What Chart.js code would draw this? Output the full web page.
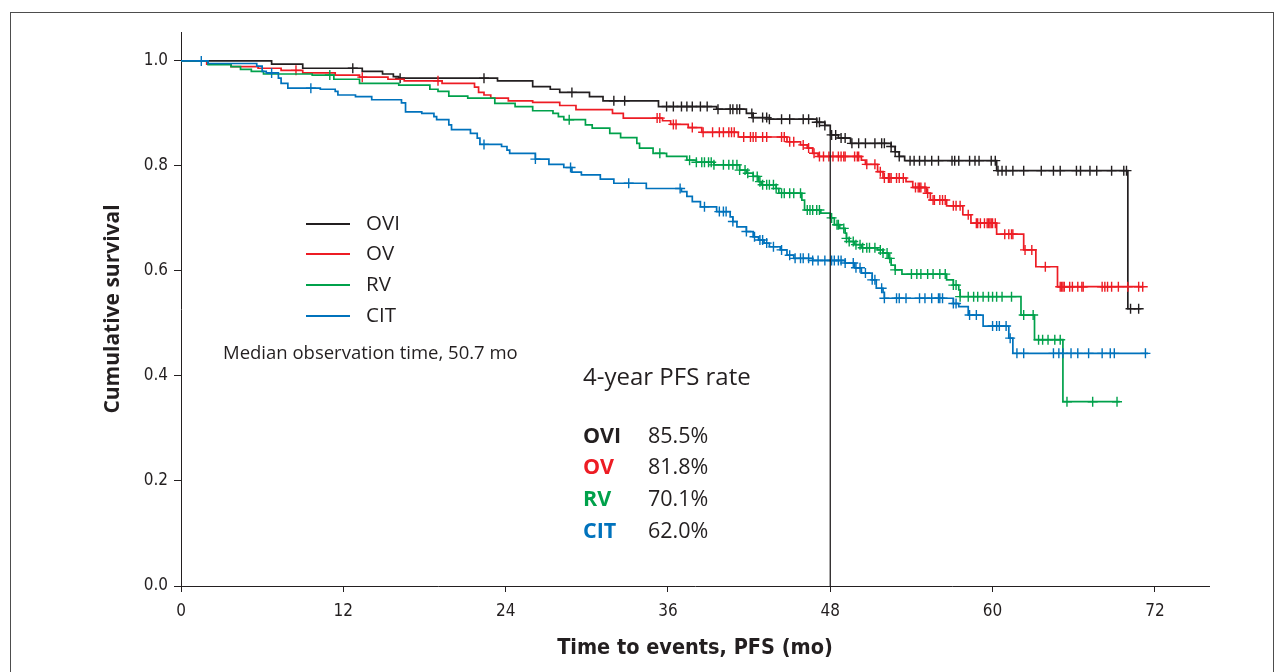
<!DOCTYPE html>
<html><head><meta charset="utf-8">
<script src="https://cdn.jsdelivr.net/npm/chart.js@4/dist/chart.umd.min.js"></script>
<style>
html,body{margin:0;padding:0;background:#fff;}
#wrap{position:relative;width:1283px;height:672px;overflow:hidden;background:#fff;}
#frame{position:absolute;left:10px;top:12px;width:1264px;height:720px;border:1px solid #4d4d4d;box-sizing:border-box;}
canvas{position:absolute;left:0;top:0;}
.t{position:absolute;white-space:nowrap;font-family:"Open Sans",sans-serif;color:#231f20;line-height:24px;height:24px;}
.sw{position:absolute;height:2px;width:44px;}
</style></head><body>
<div id="wrap"><div id="frame"></div><canvas id="c" width="1283" height="672"></canvas><div id="ann"></div></div>
<script>
// ---------- data ----------
const xTicks = [0, 12, 24, 36, 48, 60, 72];
const yTicks = [0.0, 0.2, 0.4, 0.6, 0.8, 1.0];
const groups = ['OVI', 'OV', 'RV', 'CIT'];
const groupColors = ['#231f20', '#ed1c24', '#00a14b', '#0072bc'];
const pfs4y = ['85.5%', '81.8%', '70.1%', '62.0%'];
const pfsTitle = '4-year PFS rate';
const medianText = 'Median observation time, 50.7 mo';
const xTitle = 'Time to events, PFS (mo)';
const yTitle = 'Cumulative survival';
const landmarkMonth = 48;
const lastFollowUp = [71.0, 71.1, 69.4, 71.5];

const oviTime = [0, 6.7, 9.0, 13.4, 14.9, 15.7, 16.1, 23.4, 26.0, 27.3, 28.0, 30.2, 31.2, 35.3, 39.6, 41.8, 42.3, 43.5, 47.0, 47.6, 48.0, 48.6, 49.5, 52.5, 52.8, 53.1, 53.5, 60.3, 70.0];
const oviSurv = [1, 0.994, 0.986, 0.980, 0.975, 0.970, 0.967, 0.962, 0.951, 0.946, 0.940, 0.932, 0.924, 0.913, 0.908, 0.900, 0.892, 0.889, 0.883, 0.877, 0.859, 0.853, 0.843, 0.837, 0.827, 0.818, 0.810, 0.791, 0.528];
const oviCensor = [12.7, 16.2, 22.4, 28.9, 32.0, 32.8, 35.9, 36.4, 37.0, 37.4, 37.8, 38.4, 38.9, 39.7, 40.6, 40.8, 41.1, 41.3, 42.2, 42.3, 43.0, 43.3, 43.5, 44.4, 45.0, 46.0, 46.4, 47.0, 47.2, 47.6, 48.1, 48.4, 48.8, 49.1, 49.6, 50.1, 50.6, 51.3, 51.8, 52.0, 52.5, 52.8, 53.1, 53.9, 54.2, 54.6, 55.0, 55.5, 56.0, 57.0, 57.2, 57.5, 58.3, 58.7, 59.0, 59.9, 60.2, 60.4, 60.7, 61.0, 61.5, 62.3, 63.6, 64.5, 65.0, 66.2, 66.5, 67.2, 67.7, 68.8, 69.7, 69.9, 70.2, 70.8];

const ovTime = [0, 1.9, 3.7, 5.7, 7.4, 9.0, 11.4, 13.2, 15.3, 16.5, 19.3, 21.7, 22.0, 22.4, 22.9, 24.2, 26.0, 28.0, 29.2, 31.9, 32.7, 35.6, 36.2, 37.5, 38.5, 41.2, 44.8, 45.8, 46.3, 46.7, 47.1, 50.3, 50.6, 51.5, 51.9, 53.6, 54.1, 55.1, 55.4, 56.6, 57.8, 58.4, 60.3, 62.3, 63.2, 64.8];
const ovSurv = [1, 0.994, 0.989, 0.986, 0.982, 0.977, 0.973, 0.969, 0.965, 0.962, 0.957, 0.950, 0.940, 0.935, 0.929, 0.924, 0.921, 0.915, 0.907, 0.900, 0.891, 0.886, 0.879, 0.873, 0.864, 0.855, 0.846, 0.840, 0.834, 0.824, 0.818, 0.811, 0.803, 0.789, 0.777, 0.770, 0.759, 0.748, 0.735, 0.724, 0.707, 0.691, 0.670, 0.640, 0.608, 0.570];
const ovCensor = [8.5, 13.4, 19.0, 35.2, 35.4, 36.4, 36.6, 37.8, 38.6, 39.3, 39.8, 40.1, 40.5, 40.7, 40.9, 41.6, 42.1, 42.3, 42.5, 43.0, 43.3, 44.4, 44.6, 45.0, 45.3, 46.0, 46.4, 46.8, 47.2, 47.5, 47.9, 48.2, 48.6, 48.8, 49.0, 49.1, 49.8, 50.0, 50.1, 50.7, 51.3, 51.7, 52.0, 52.3, 52.4, 52.5, 52.9, 53.1, 53.4, 54.3, 54.5, 54.6, 54.7, 55.0, 55.2, 55.6, 55.7, 56.1, 56.3, 56.5, 57.1, 57.3, 57.6, 58.2, 58.8, 58.9, 59.1, 59.4, 59.6, 59.7, 59.8, 59.9, 60.0, 60.2, 60.9, 61.2, 61.4, 61.5, 62.4, 62.9, 63.9, 65.0, 65.1, 65.2, 65.3, 65.7, 65.9, 66.3, 66.6, 66.7, 68.1, 68.3, 68.5, 68.8, 69.3, 70.0, 70.8, 71.1];

const rvTime = [0, 2.0, 3.7, 4.4, 5.2, 6.1, 9.7, 11.3, 13.2, 16.1, 18.4, 19.0, 19.8, 21.2, 23.2, 24.7, 26.0, 27.5, 27.9, 28.3, 29.9, 30.4, 31.7, 32.5, 33.7, 33.9, 34.9, 35.9, 37.4, 38.1, 39.4, 41.3, 41.8, 42.3, 42.7, 42.9, 44.0, 44.2, 45.9, 46.1, 47.3, 48.0, 48.3, 48.7, 49.1, 49.2, 49.4, 49.8, 50.3, 51.5, 51.9, 52.3, 52.5, 52.8, 53.3, 56.6, 57.1, 57.5, 57.6, 62.1, 63.1, 65.2];
const rvSurv = [1, 0.993, 0.989, 0.984, 0.980, 0.975, 0.973, 0.965, 0.957, 0.954, 0.946, 0.942, 0.933, 0.929, 0.919, 0.913, 0.905, 0.900, 0.894, 0.888, 0.878, 0.872, 0.862, 0.854, 0.843, 0.834, 0.824, 0.818, 0.811, 0.807, 0.802, 0.792, 0.786, 0.780, 0.770, 0.764, 0.757, 0.748, 0.735, 0.716, 0.710, 0.701, 0.688, 0.681, 0.672, 0.662, 0.656, 0.650, 0.644, 0.640, 0.634, 0.624, 0.611, 0.602, 0.594, 0.583, 0.573, 0.564, 0.551, 0.516, 0.469, 0.351];
const rvCensor = [11.0, 28.7, 35.4, 37.6, 38.1, 38.5, 38.7, 39.0, 39.2, 39.4, 40.1, 40.5, 40.8, 41.1, 41.3, 41.7, 41.9, 42.3, 42.6, 42.8, 43.0, 43.3, 43.5, 43.8, 44.0, 44.4, 44.6, 45.0, 45.3, 45.8, 46.3, 46.5, 46.7, 47.0, 47.2, 48.1, 48.5, 48.6, 49.0, 49.2, 49.4, 49.7, 49.9, 50.2, 50.4, 50.7, 50.9, 51.3, 51.7, 51.9, 52.2, 52.4, 52.8, 54.0, 54.4, 54.7, 55.2, 55.6, 56.1, 56.5, 57.1, 57.3, 57.6, 58.2, 58.6, 58.9, 59.3, 59.7, 60.0, 60.3, 60.7, 61.4, 62.3, 63.0, 63.4, 63.7, 64.1, 64.6, 65.0, 65.5, 67.4, 69.2];

const citTime = [0, 2.0, 5.6, 6.0, 6.3, 7.2, 7.4, 7.9, 10.3, 11.4, 11.6, 12.9, 14.1, 16.3, 16.6, 17.8, 18.7, 18.9, 19.8, 20.0, 21.4, 21.9, 22.1, 23.7, 24.1, 24.3, 26.2, 27.2, 28.3, 28.9, 29.6, 31.0, 32.0, 34.4, 37.0, 37.4, 37.8, 38.4, 39.6, 40.6, 40.8, 41.1, 41.8, 42.3, 42.7, 43.1, 43.5, 44.3, 44.8, 45.3, 46.7, 49.1, 49.8, 50.3, 51.1, 51.4, 51.9, 52.0, 57.1, 57.5, 58.2, 59.3, 61.2, 61.5];
const citSurv = [1, 0.995, 0.990, 0.980, 0.977, 0.967, 0.957, 0.948, 0.946, 0.942, 0.935, 0.932, 0.926, 0.920, 0.903, 0.900, 0.894, 0.888, 0.878, 0.869, 0.862, 0.853, 0.841, 0.837, 0.830, 0.824, 0.813, 0.803, 0.797, 0.788, 0.783, 0.775, 0.767, 0.757, 0.751, 0.742, 0.732, 0.722, 0.713, 0.703, 0.694, 0.684, 0.675, 0.665, 0.659, 0.653, 0.646, 0.640, 0.630, 0.624, 0.620, 0.615, 0.606, 0.596, 0.583, 0.567, 0.559, 0.548, 0.538, 0.532, 0.516, 0.495, 0.472, 0.443];
const citCensor = [1.5, 6.7, 9.6, 22.4, 26.2, 28.8, 33.1, 36.9, 38.7, 39.8, 40.1, 40.3, 40.8, 41.8, 42.4, 42.8, 43.0, 43.3, 43.8, 44.4, 45.0, 45.4, 45.8, 46.0, 46.4, 46.7, 47.1, 47.6, 48.1, 48.3, 48.6, 48.8, 49.1, 49.7, 49.9, 50.2, 50.6, 51.1, 51.3, 51.8, 52.0, 52.9, 53.1, 53.6, 54.6, 55.0, 55.5, 56.0, 56.1, 56.3, 57.1, 57.3, 58.3, 58.8, 60.0, 60.3, 60.5, 61.0, 61.3, 61.8, 62.3, 64.5, 64.9, 65.2, 65.8, 66.3, 67.1, 68.1, 68.7, 69.0, 71.3];

// ---------- build ----------
const series = [
  {time: oviTime, surv: oviSurv, censor: oviCensor},
  {time: ovTime, surv: ovSurv, censor: ovCensor},
  {time: rvTime, surv: rvSurv, censor: rvCensor},
  {time: citTime, surv: citSurv, censor: citCensor}
];
function survAt(time, surv, t) {
  let v = surv[0];
  for (let i = 0; i < time.length; i++) { if (time[i] <= t) v = surv[i]; else break; }
  return v;
}
const datasets = [];
datasets.push({
  label: 'landmark',
  data: [{x: landmarkMonth, y: 0}, {x: landmarkMonth, y: survAt(oviTime, oviSurv, landmarkMonth)}],
  showLine: true, borderColor: '#231f20', borderWidth: 1.3, pointRadius: 0
});
for (let k = series.length - 1; k >= 0; k--) {
  const s = series[k];
  const pts = s.time.map((t, i) => ({x: t, y: s.surv[i]}));
  pts.push({x: lastFollowUp[k], y: s.surv[s.surv.length - 1]});
  datasets.push({label: groups[k], data: pts, showLine: true, stepped: 'before',
    borderColor: groupColors[k], borderWidth: 1.7, pointRadius: 0, fill: false});
  datasets.push({label: groups[k] + ' censored',
    data: s.censor.map(t => ({x: t, y: survAt(s.time, s.surv, t)})),
    showLine: false, pointStyle: 'cross', pointRadius: 5, pointBorderWidth: 1.4,
    borderColor: groupColors[k], backgroundColor: groupColors[k], borderWidth: 1.4});
}

const narrow = "'Liberation Sans Narrow', 'DejaVu Sans Condensed', 'Arial Narrow', sans-serif";
const axisColor = '#231f20';
new Chart(document.getElementById('c'), {
  type: 'scatter',
  data: {datasets},
  options: {
    responsive: false, animation: false, events: [],
    layout: {padding: {left: 0, right: 74, top: 32, bottom: 0}},
    plugins: {legend: {display: false}, tooltip: {enabled: false}},
    scales: {
      x: {
        type: 'linear', min: 0, max: 76,
        afterBuildTicks: sc => { sc.ticks = xTicks.map(v => ({value: v})); },
        afterFit: sc => { sc.height = 86; },
        grid: {display: true, drawOnChartArea: false, drawTicks: true, tickLength: 6, color: axisColor, lineWidth: 1},
        border: {display: true, color: axisColor, width: 1},
        ticks: {padding: 9, color: axisColor, maxRotation: 0, autoSkip: false,
          font: {family: narrow, size: 17}},
        title: {display: true, text: xTitle, color: axisColor,
          font: {family: narrow, size: 21.5, weight: 'bold'}, padding: {top: 0, bottom: 11}}
      },
      y: {
        type: 'linear', min: 0, max: 1.055,
        afterBuildTicks: sc => { sc.ticks = yTicks.map(v => ({value: v})); },
        afterFit: sc => { sc.width = 181; },
        grid: {display: true, drawOnChartArea: false, drawTicks: true, tickLength: 7, color: axisColor, lineWidth: 1},
        border: {display: true, color: axisColor, width: 1},
        ticks: {padding: 6, color: axisColor, autoSkip: false, font: {family: narrow, size: 17},
          callback: v => Number(v).toFixed(1)},
        title: {display: true, text: yTitle, color: axisColor, align: 'center',
          font: {family: "'Open Sans', sans-serif", size: 21, weight: 'bold'}, padding: {top: 100, bottom: 0}}
      }
    }
  }
});

// ---------- annotations (real text) ----------
const ann = document.getElementById('ann');
function addText(txt, left, centerY, size, color, weight) {
  const d = document.createElement('div');
  d.className = 't';
  d.textContent = txt;
  d.style.left = left + 'px';
  d.style.top = (centerY - 12.5) + 'px';
  d.style.fontSize = size + 'px';
  d.style.color = color;
  if (weight) d.style.fontWeight = weight;
  ann.appendChild(d);
  return d;
}
groups.forEach((g, i) => {
  const y = 223.5 + i * 30.8;
  const sw = document.createElement('div');
  sw.className = 'sw';
  sw.style.left = '306px';
  sw.style.top = (y - 1) + 'px';
  sw.style.background = groupColors[i];
  ann.appendChild(sw);
  addText(g, 366, y - 1.5, 20.5, '#231f20');
});
addText(medianText, 223, 352, 18.5, '#231f20');
addText(pfsTitle, 583, 376, 24, '#231f20');
groups.forEach((g, i) => {
  const y = 435 + i * 31.7;
  addText(g, 583, y, 21.5, groupColors[i], 'bold');
  addText(pfs4y[i], 648, y, 21.5, '#231f20');
});
</script>
</body></html>
